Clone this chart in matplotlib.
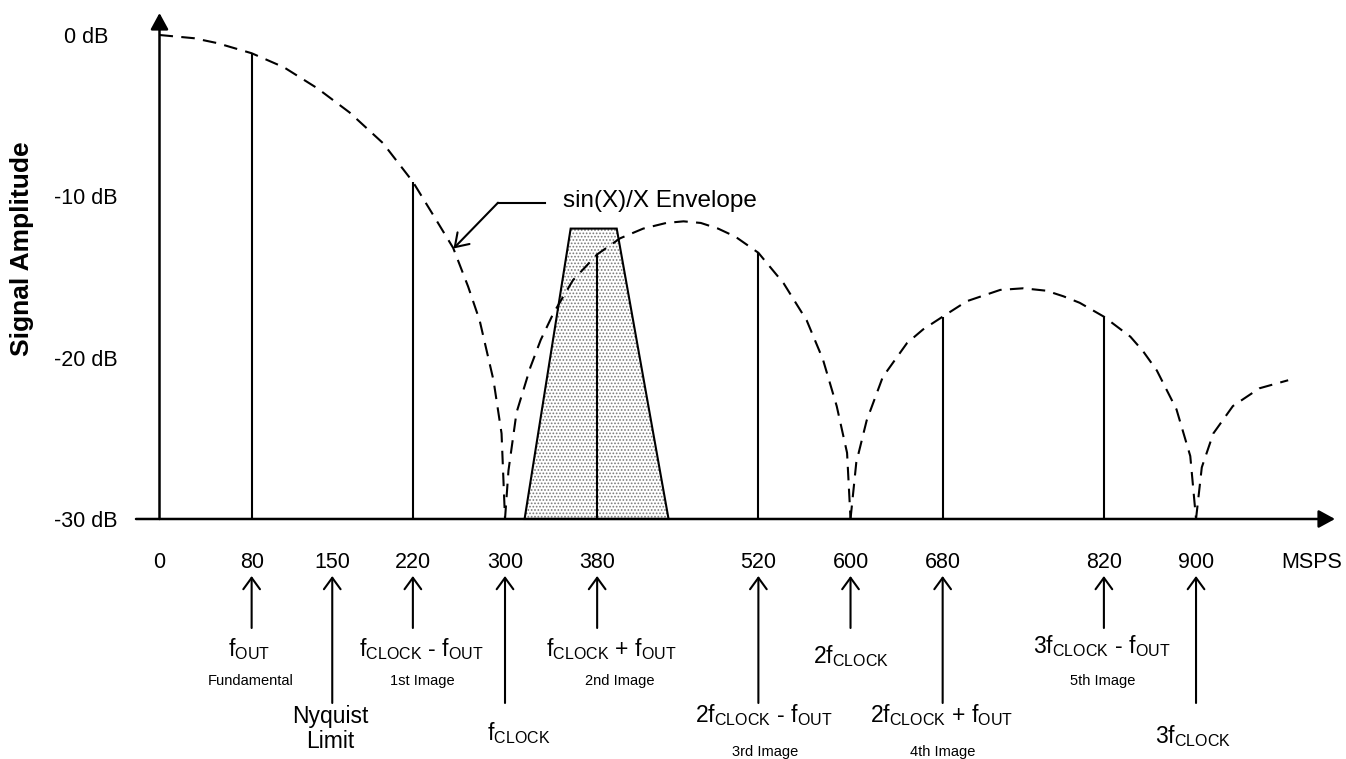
import matplotlib
matplotlib.use("Agg")
import matplotlib.pyplot as plt
from matplotlib.patches import Polygon

plt.rcParams['font.family'] = ['Liberation Sans', 'DejaVu Sans']
plt.rcParams['mathtext.fontset'] = 'custom'
plt.rcParams['mathtext.rm'] = 'Liberation Sans'
plt.rcParams['mathtext.it'] = 'Liberation Sans'
plt.rcParams['mathtext.bf'] = 'Liberation Sans:bold'
plt.rcParams['hatch.linewidth'] = 0.8

# ---------------- data ----------------
# sin(x)/x envelope (MSPS, dB)
env1_f = [0, 30, 50, 80, 108, 137, 165, 194, 220, 238, 255, 268, 278, 290, 297, 300]
env1_db = [0, -0.2, -0.5, -1.13, -2.0, -3.3, -4.8, -6.7, -9.1, -11.2, -13.2, -15.6, -17.7, -21.4, -24.7, -30]
env2_f = [300, 303, 310, 322, 331, 342, 359, 380, 400, 420, 440, 455, 470, 485, 500, 520, 542, 562, 576, 588,
          597, 600]
env2_db = [-30, -27.0, -23.4, -20.6, -18.9, -17.25, -15.2, -13.6, -12.6, -12.0, -11.65, -11.55, -11.65, -12.0,
           -12.5, -13.5, -15.4, -17.7, -20.1, -23.0, -25.9, -30]
env3_f = [600, 605, 614, 628, 649, 663, 680, 701, 730, 750, 770, 785, 799, 820, 843, 854, 866, 883, 895, 900]
env3_db = [-30, -26.5, -23.9, -21.2, -19.1, -18.25, -17.46, -16.5, -15.8, -15.7, -15.85, -16.2, -16.6, -17.46,
           -18.7, -19.6, -20.8, -23.2, -26.1, -30]
env4_f = [900, 905, 915, 932, 955, 980]
env4_db = [-30, -26.8, -24.7, -23.0, -21.9, -21.4]

# spectral lines
line_f = [80, 220, 380, 520, 680, 820]
line_db = [-1.13, -9.09, -13.6, -13.5, -17.46, -17.46]

# shaded band (trapezoid) around the 2nd image
band_f = [317, 357, 397, 442]
band_db = [-30, -12, -12, -30]

# axes
floor_db = -30
ytick_vals = [0, -10, -20, -30]
ytick_labels = ["0 dB", "-10 dB", "-20 dB", "-30 dB"]
xtick_vals = [0, 80, 150, 220, 300, 380, 520, 600, 680, 820, 900]
xtick_labels = ["0", "80", "150", "220", "300", "380", "520", "600", "680", "820", "900"]
x_unit = "MSPS"
y_title = "Signal Amplitude"

# markers below the axis
short_arrow_f = [80, 220, 380, 600, 820]
long_arrow_f = [150, 300, 520, 680, 900]

main_labels = [
    r"f$_{\mathrm{OUT}}$",
    "Nyquist\nLimit",
    r"f$_{\mathrm{CLOCK}}$ - f$_{\mathrm{OUT}}$",
    r"f$_{\mathrm{CLOCK}}$",
    r"f$_{\mathrm{CLOCK}}$ + f$_{\mathrm{OUT}}$",
    r"2f$_{\mathrm{CLOCK}}$ - f$_{\mathrm{OUT}}$",
    r"2f$_{\mathrm{CLOCK}}$",
    r"2f$_{\mathrm{CLOCK}}$ + f$_{\mathrm{OUT}}$",
    r"3f$_{\mathrm{CLOCK}}$ - f$_{\mathrm{OUT}}$",
    r"3f$_{\mathrm{CLOCK}}$",
]
sub_labels = ["Fundamental", "", "1st Image", "", "2nd Image", "3rd Image", "", "4th Image", "5th Image", ""]
envelope_label = "sin(X)/X Envelope"

# ---------------- layout (positions / styles) ----------------
# pixel <-> data mapping : x=0 at px 159.5, 1.1517 px per MSPS ; 0 dB at py 35, 16.133 px per dB
W, H = 1346, 759
PX_PER_F = 1.1517
PX_PER_DB = 16.133
X0_PX, Y0_PX = 159.5, 35.0


def fx(px):
    return (px - X0_PX) / PX_PER_F


def fy(py):
    return -(py - Y0_PX) / PX_PER_DB


fig = plt.figure(figsize=(W / 100, H / 100), dpi=100)
ax = fig.add_axes([0, 0, 1, 1])
ax.set_xlim(fx(0), fx(W))
ax.set_ylim(fy(H), fy(0))
ax.axis('off')

# shaded band: stipple fill + black outline
ax.add_patch(Polygon(list(zip(band_f, band_db)), closed=True, facecolor='white',
                     edgecolor='#7a7a7a', hatch='.....', lw=0, zorder=1))
ax.add_patch(Polygon(list(zip(band_f, band_db)), closed=True, fill=False,
                     edgecolor='black', lw=1.5, zorder=3))

# envelope
for ef, ed in [(env1_f, env1_db), (env2_f, env2_db), (env3_f, env3_db), (env4_f, env4_db)]:
    ax.plot(ef, ed, color='black', lw=1.5, dashes=(6.5, 4.0), zorder=2, solid_capstyle='butt')

# spectral lines
ax.vlines(line_f, floor_db, line_db, colors='black', lw=1.5, zorder=4)

# axes with filled arrowheads
ax.annotate('', xy=(0, fy(13)), xytext=(0, floor_db),
            arrowprops=dict(arrowstyle='-|>,head_length=0.55,head_width=0.3', color='black', lw=1.8,
                            shrinkA=0, shrinkB=0, mutation_scale=18), zorder=5)
ax.annotate('', xy=(fx(1335), floor_db), xytext=(fx(136), floor_db),
            arrowprops=dict(arrowstyle='-|>,head_length=0.55,head_width=0.3', color='black', lw=1.8,
                            shrinkA=0, shrinkB=0, mutation_scale=18), zorder=5)

# y tick labels
for v, lab in zip(ytick_vals, ytick_labels):
    ax.text(fx(86), v - 0.15, lab, ha='center', va='center', fontsize=15.5)

# y title
ax.text(fx(22), fy(249), y_title, rotation=90, ha='center', va='center', fontsize=19, fontweight='bold')

# x tick labels
for v, lab in zip(xtick_vals, xtick_labels):
    ax.text(v, fy(562), lab, ha='center', va='center', fontsize=15.5)
ax.text(fx(1312), fy(562), x_unit, ha='center', va='center', fontsize=15.5)

# arrows below the axis
arrow_style = dict(arrowstyle='->,head_length=0.55,head_width=0.4', color='black', lw=1.5,
                   shrinkA=0, shrinkB=0, mutation_scale=15)
for f in short_arrow_f:
    ax.annotate('', xy=(f, fy(576)), xytext=(f, fy(628)), arrowprops=arrow_style)
for f in long_arrow_f:
    ax.annotate('', xy=(f, fy(576)), xytext=(f, fy(703)), arrowprops=arrow_style)

# labels below arrows: (center x px, baseline y px) for main labels, sub labels baseline
main_pos = [(249, 656), (330, None), (421.7, 656), (519, 740), (611, 656),
            (764, 722), (851, 663), (942, 722), (1101.7, 653), (1193.3, 743)]
sub_pos = [(250.6, 685), None, (422.8, 685), None, (620, 685),
           (764.7, 756), None, (943, 756), (1103, 685), None]
for lab, pos in zip(main_labels, main_pos):
    px, py = pos
    if py is None:
        ax.text(fx(px), fy(729), lab, ha='center', va='center', fontsize=16.5, linespacing=1.1)
    else:
        ax.text(fx(px), fy(py), lab, ha='center', va='baseline', fontsize=16.5)
for lab, pos in zip(sub_labels, sub_pos):
    if pos is None or not lab:
        continue
    ax.text(fx(pos[0]), fy(pos[1]), lab, ha='center', va='baseline', fontsize=10.5)

# envelope callout
ax.plot([fx(545), fx(498)], [fy(202.7), fy(202.7)], color='black', lw=1.5)
ax.annotate('', xy=(fx(453.5), fy(248.5)), xytext=(fx(498), fy(202.7)),
            arrowprops=dict(arrowstyle='->,head_length=0.6,head_width=0.4', color='black', lw=1.5,
                            shrinkA=0, shrinkB=0, mutation_scale=15))
ax.text(fx(563), fy(201), envelope_label, ha='left', va='center', fontsize=17.5)

fig.savefig('out.png', dpi=100)
